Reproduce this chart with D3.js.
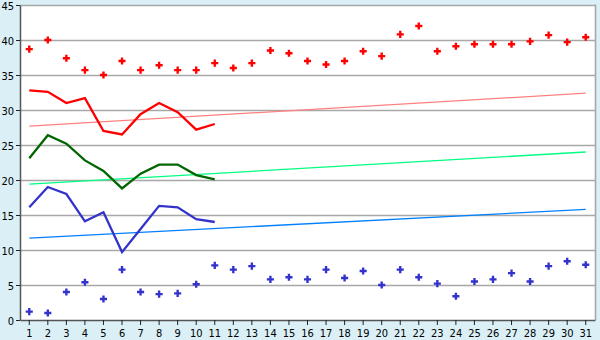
<!DOCTYPE html>
<html><head><meta charset="utf-8">
<script src="https://cdn.jsdelivr.net/npm/d3@7"></script>
<style>body{margin:0;background:#daf0f6;}svg{display:block;}</style>
</head><body>
<svg id="c" width="600" height="340"></svg>
<script>
const days = d3.range(1, 32).map(String);
const yTicks = [0,5,10,15,20,25,30,35,40,45];
const highPts = [38.7,40,37.4,35.7,35,37,35.7,36.4,35.7,35.7,36.7,36,36.7,38.5,38.1,37,36.5,37,38.4,37.7,40.8,42,38.4,39.1,39.4,39.4,39.4,39.8,40.7,39.7,40.4];
const lowPts = [1.2,1,4,5.4,3,7.2,4,3.7,3.8,5.1,7.8,7.2,7.7,5.8,6.1,5.8,7.2,6,7,5,7.2,6.1,5.2,3.4,5.5,5.8,6.7,5.5,7.7,8.4,7.9];
const maxLine = [32.8,32.6,31,31.7,27,26.5,29.4,31,29.7,27.2,28];
const avgLine = [23.1,26.4,25.2,22.8,21.3,18.8,20.9,22.2,22.2,20.7,20.1];
const minLine = [16.1,19,18,14.1,15.4,9.7,13,16.3,16.1,14.4,14];
const trendMax = [27.7,32.4];
const trendAvg = [19.4,24];
const trendMin = [11.7,15.8];

const svg = d3.select("#c");
const L=20, R=595, T=5, B=320;
const x = d3.scaleBand().domain(days).range([L,R]);
const y = d3.scaleLinear().domain([0,45]).range([B,T]);
const cx = d => x(d)+x.bandwidth()/2;

svg.append("rect").attr("x",L).attr("y",T).attr("width",R-L).attr("height",B-T).attr("fill","#fff");

svg.append("g").selectAll("line").data(yTicks.filter(v=>v>0)).join("line")
  .attr("x1",L).attr("x2",R).attr("y1",d=>Math.round(y(d))+0.5).attr("y2",d=>Math.round(y(d))+0.5)
  .attr("stroke","#a8a8a8").attr("stroke-width",1.4);
svg.append("line").attr("x1",R+0.5).attr("x2",R+0.5).attr("y1",T-0.5).attr("y2",B)
  .attr("stroke","#a8a8a8").attr("stroke-width",1.6);

const gx = svg.append("g").attr("transform",`translate(0,${B})`)
  .call(d3.axisBottom(x).tickSize(5).tickSizeOuter(0));
const gy = svg.append("g").attr("transform",`translate(${L},0)`)
  .call(d3.axisLeft(y).tickValues(yTicks).tickSize(4).tickPadding(2).tickSizeOuter(0));
[gx,gy].forEach(g=>{
  g.select(".domain").attr("stroke","#555").attr("stroke-width",1.5);
  g.selectAll(".tick line").attr("stroke","#222");
  g.selectAll("text").attr("font-family","DejaVu Sans Condensed, DejaVu Sans, sans-serif").attr("font-size",11).attr("fill","#000");
});
gx.selectAll("text").attr("y",17).attr("dy",0);
gy.selectAll("text").attr("dy","0.42em");

function trend(vals,color){
  svg.append("line").attr("x1",cx(days[0])).attr("x2",cx(days[30]))
    .attr("y1",y(vals[0])).attr("y2",y(vals[1]))
    .attr("stroke",color).attr("stroke-width",1.3);
}
trend(trendMax,"#ff8080");
trend(trendAvg,"#00ff80");
trend(trendMin,"#0080ff");

function line(vals,color){
  svg.append("path").datum(vals)
    .attr("d",d3.line().x((d,i)=>cx(days[i])).y(d=>y(d)))
    .attr("fill","none").attr("stroke",color).attr("stroke-width",2.3);
}
line(maxLine,"#ff0000");
line(avgLine,"#006600");
line(minLine,"#3333cc");

function pts(vals,color){
  svg.append("g").selectAll("path").data(vals).join("path")
    .attr("transform",(d,i)=>`translate(${cx(days[i])},${y(d)})`)
    .attr("d",d3.symbol().type(d3.symbolCross).size(28))
    .attr("fill",color);
}
pts(highPts,"#ff0000");
pts(lowPts,"#3333cc");
</script>
</body></html>
